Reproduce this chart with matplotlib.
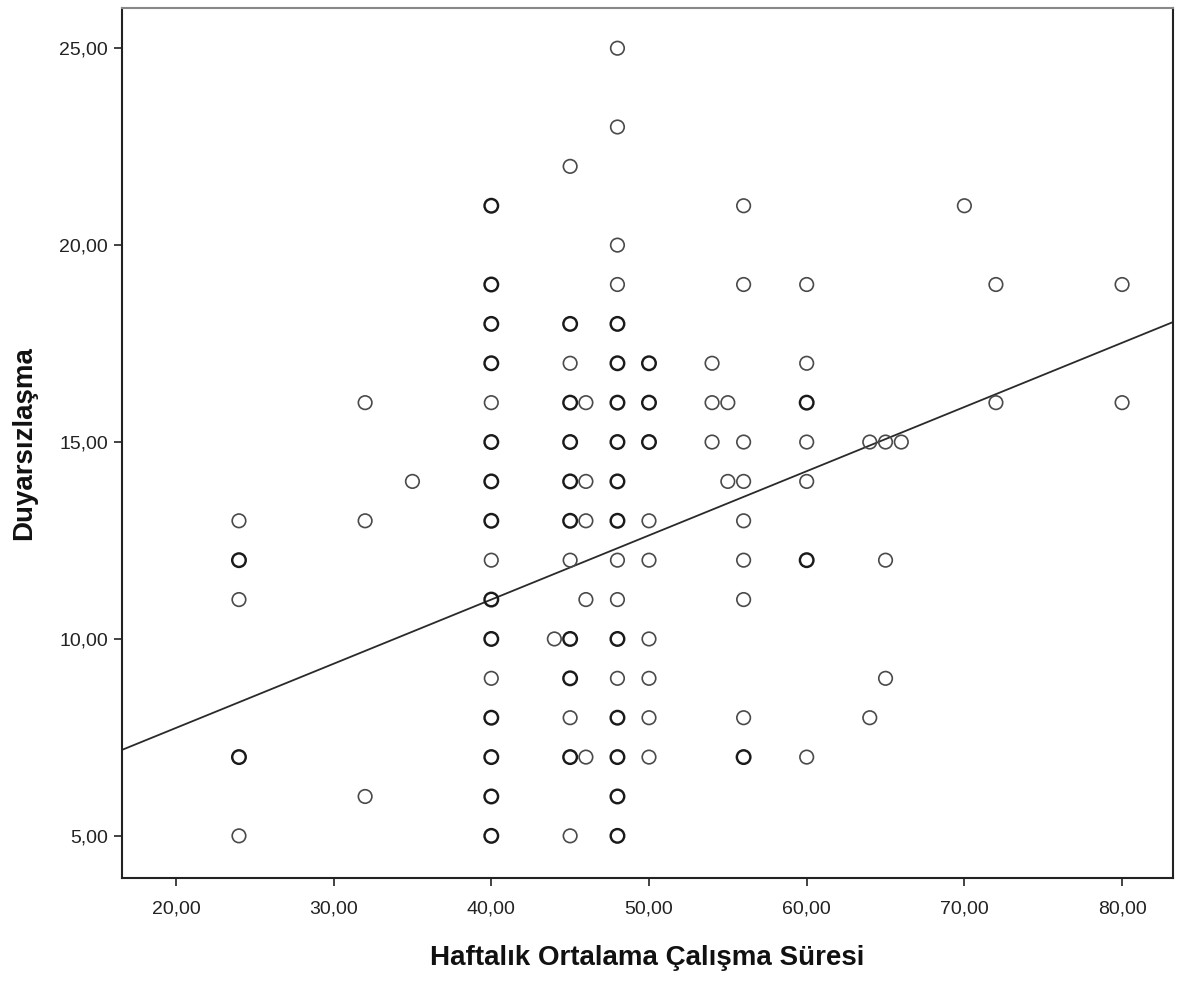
import matplotlib
matplotlib.use("Agg")
import matplotlib.pyplot as plt
import numpy as np

# ---- data ----
hours = [24, 24, 24, 24, 24,
         32, 32, 32,
         35,
         40, 40, 40, 40, 40, 40, 40, 40, 40, 40, 40, 40, 40, 40, 40, 40,
         44,
         45, 45, 45, 45, 45, 45, 45, 45, 45, 45, 45, 45, 45,
         46, 46, 46, 46, 46,
         48, 48, 48, 48, 48, 48, 48, 48, 48, 48, 48, 48, 48, 48, 48, 48, 48, 48,
         50, 50, 50, 50, 50, 50, 50, 50, 50,
         54, 54, 54,
         55, 55,
         56, 56, 56, 56, 56, 56, 56, 56, 56,
         60, 60, 60, 60, 60, 60, 60,
         64, 64,
         65, 65, 65,
         66,
         70,
         72, 72,
         80, 80]
score = [13, 12, 11, 7, 5,
         16, 13, 6,
         14,
         21, 19, 18, 17, 16, 15, 14, 13, 12, 11, 10, 9, 8, 7, 6, 5,
         10,
         22, 18, 17, 16, 15, 14, 13, 12, 10, 9, 8, 7, 5,
         16, 14, 13, 11, 7,
         25, 23, 20, 19, 18, 17, 16, 15, 14, 13, 12, 11, 10, 9, 8, 7, 6, 5,
         17, 16, 15, 13, 12, 10, 9, 8, 7,
         17, 16, 15,
         16, 14,
         21, 19, 15, 14, 13, 12, 11, 8, 7,
         19, 17, 16, 15, 14, 12, 7,
         15, 8,
         15, 12, 9,
         15,
         21,
         19, 16,
         19, 16]
# number of overlapping cases at each plotted position
count = [1, 2, 1, 2, 1,
         1, 1, 1,
         1,
         2, 2, 2, 2, 1, 2, 2, 2, 1, 2, 2, 1, 2, 2, 2, 2,
         1,
         1, 2, 1, 2, 2, 2, 2, 1, 2, 2, 1, 2, 1,
         1, 1, 1, 1, 1,
         1, 1, 1, 1, 2, 2, 2, 2, 2, 2, 1, 1, 2, 1, 2, 2, 2, 2,
         2, 2, 2, 1, 1, 1, 1, 1, 1,
         1, 1, 1,
         1, 1,
         1, 1, 1, 1, 1, 1, 1, 1, 2,
         1, 1, 2, 1, 1, 2, 1,
         1, 1,
         1, 1, 1,
         1,
         1,
         1, 1,
         1, 1]

fit_intercept = 4.48
fit_slope = 0.163

x_ticks = [20, 30, 40, 50, 60, 70, 80]
x_ticklabels = ["20,00", "30,00", "40,00", "50,00", "60,00", "70,00", "80,00"]
y_ticks = [5, 10, 15, 20, 25]
y_ticklabels = ["5,00", "10,00", "15,00", "20,00", "25,00"]
x_label = "Haftalık Ortalama Çalışma Süresi"
y_label = "Duyarsızlaşma"

# ---- figure ----
plt.rcParams['font.family'] = ['Liberation Sans', 'DejaVu Sans']
fig = plt.figure(figsize=(11.91, 9.81), dpi=100)
ax = fig.add_axes([0.1024, 0.105, 0.8825, 0.8868])

x_min, x_max = 16.58, 83.23
y_min, y_max = 3.93, 26.02
ax.set_xlim(x_min, x_max)
ax.set_ylim(y_min, y_max)

hx = np.array(hours, dtype=float)
sy = np.array(score, dtype=float)
cn = np.array(count)

single = cn == 1
multi = cn > 1
ax.scatter(hx[single], sy[single], s=95, facecolors='none',
           edgecolors='#4a4a4a', linewidths=1.2, zorder=3)
ax.scatter(hx[multi], sy[multi], s=95, facecolors='none',
           edgecolors='#1a1a1a', linewidths=1.75, zorder=3)

lx = np.array([x_min, x_max])
ax.plot(lx, fit_intercept + fit_slope * lx, color='#2a2a2a', linewidth=1.3, zorder=2)

ax.set_xticks(x_ticks)
ax.set_xticklabels(x_ticklabels)
ax.set_yticks(y_ticks)
ax.set_yticklabels(y_ticklabels)
ax.tick_params(axis='both', direction='out', length=6, width=1.2,
               labelsize=14, colors='#222222')
ax.tick_params(axis='x', pad=10)
ax.tick_params(axis='y', pad=4)
ax.tick_params(top=False, right=False)

for side in ['left', 'bottom', 'right']:
    ax.spines[side].set_linewidth(1.5)
    ax.spines[side].set_color('#222222')
ax.spines['top'].set_linewidth(1.5)
ax.spines['top'].set_color('#888888')

ax.set_xlabel(x_label, fontsize=20, fontweight='bold', labelpad=20, color='#111111')
ax.set_ylabel(y_label, fontsize=20, fontweight='bold', labelpad=16, color='#111111')

fig.savefig("out.png", dpi=100)
